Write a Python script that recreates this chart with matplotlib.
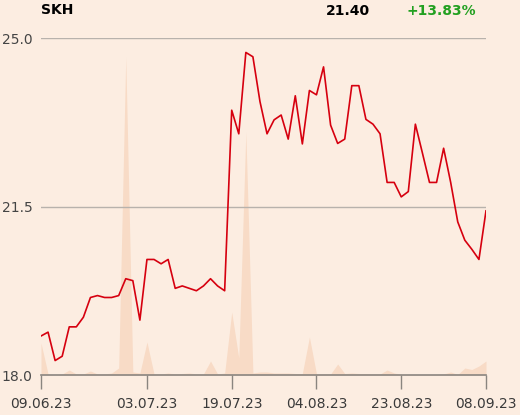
import matplotlib.pyplot as plt

# closing prices, one per trading day
price = [18.81, 18.89, 18.30, 18.39, 19.00, 19.00, 19.20, 19.61, 19.65, 19.61,
         19.61, 19.65, 20.00, 19.96, 19.14, 20.40, 20.40, 20.31, 20.40, 19.80,
         19.85, 19.80, 19.75, 19.85, 20.00, 19.85, 19.75, 23.50, 23.01, 24.70,
         24.61, 23.68, 23.01, 23.30, 23.40, 22.90, 23.80, 22.80, 23.91, 23.82,
         24.40, 23.19, 22.81, 22.90, 24.01, 24.01, 23.31, 23.21, 23.01, 22.00,
         22.00, 21.70, 21.81, 23.21, 22.61, 22.00, 22.00, 22.71, 22.00, 21.18,
         20.80, 20.61, 20.40, 21.41]

# traded volume (relative units)
volume = [32, 1, 0, 1, 5, 1, 1, 4, 1, 1,
          2, 7, 318, 3, 2, 33, 1, 1, 2, 1,
          1.5, 2, 1, 1, 14, 1, 2, 63, 17, 243,
          2, 3, 3, 2, 2, 2, 1.5, 1.5, 38, 1,
          1, 1, 11, 1.5, 2, 1.5, 1.5, 1, 1, 5,
          2, 0.5, 0.5, 0.5, 0.5, 0.5, 0.5, 1, 3, 0.5,
          7, 5.5, 9, 14]

tick_idx = [0, 15, 27, 39, 51, 63]
tick_labels = ["09.06.23", "03.07.23", "19.07.23", "04.08.23", "23.08.23", "08.09.23"]

name = "SKH"
last = "21.40"
change = "+13.83%"

bg = "#fcede1"
x = list(range(len(price)))

fig = plt.figure(figsize=(5.2, 4.15), dpi=100, facecolor=bg)
ax = fig.add_axes([41/520, 40/415, 445/520, 337/415])
ax.set_facecolor(bg)

vax = ax.twinx()
vax.fill_between(x, volume, 0, color="#f8dbc6", lw=0, zorder=1)
vax.set_ylim(0, 337)
vax.axis("off")

ax.set_zorder(vax.get_zorder() + 1)
ax.patch.set_visible(False)

ax.plot(x, price, color="#d6000f", lw=1.2, zorder=3)
ax.set_xlim(0, len(price) - 1)
ax.set_ylim(18, 25)

for v in [25.0, 21.5]:
    ax.axhline(v, color="#b8b2ac", lw=1, zorder=2)

for s in ["top", "right", "left"]:
    ax.spines[s].set_visible(False)
ax.spines["bottom"].set_color("#8a8580")
ax.spines["bottom"].set_linewidth(1.2)

ax.set_xticks(tick_idx)
ax.set_xticklabels(tick_labels)
ax.tick_params(axis="x", length=10, width=1, color="#8a8580", pad=6,
               labelsize=10, labelcolor="#3a3a3a")
ax.set_yticks([18.0, 21.5, 25.0])
ax.set_yticklabels(["18.0", "21.5", "25.0"])
ax.tick_params(axis="y", length=0, pad=6, labelsize=10, labelcolor="#444444")

fig.text(41/520, 1 - 10/415, name, fontsize=10, fontweight="bold", va="center")
fig.text(370/520, 1 - 11/415, last, fontsize=10, fontweight="bold", va="center", ha="right")
fig.text(406/520, 1 - 11/415, change, fontsize=10, fontweight="bold", va="center",
         color="#22a020")

fig.savefig("out.png", dpi=100, facecolor=bg)
